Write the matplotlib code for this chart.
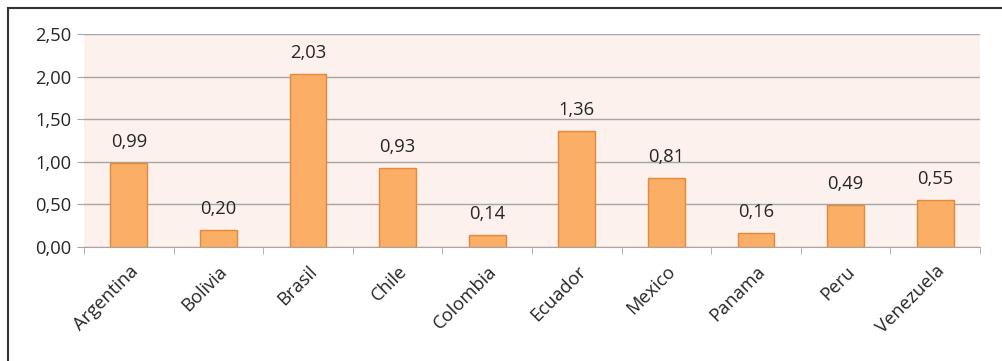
import matplotlib
matplotlib.use("Agg")
import matplotlib.pyplot as plt
from matplotlib.lines import Line2D
import numpy as np

countries = ["Argentina", "Bolivia", "Brasil", "Chile", "Colombia",
             "Ecuador", "Mexico", "Panama", "Peru", "Venezuela"]
values = [0.99, 0.20, 2.03, 0.93, 0.14, 1.36, 0.81, 0.16, 0.49, 0.55]
yticks = [0.0, 0.5, 1.0, 1.5, 2.0, 2.5]

plt.rcParams['font.family'] = ['Open Sans', 'DejaVu Sans']

W, H = 1003, 361
fig = plt.figure(figsize=(W / 100, H / 100), dpi=100)
fig.patch.set_facecolor("white")
ax = fig.add_axes([84 / W, 1 - 247 / H, (980 - 84) / W, (247 - 34) / H])
ax.set_facecolor("#FCF1EC")

FS = 13.2
x = np.arange(len(countries))
ax.bar(x, values, width=0.41, color="#FBAE65", edgecolor="#E3893A", linewidth=1, zorder=3)
for xi, v in zip(x, values):
    ax.text(xi, v + 0.14, f"{v:.2f}".replace(".", ","), ha="center", va="bottom",
            fontsize=FS, color="#262626", zorder=4)

ax.set_xlim(-0.5, len(countries) - 0.5)
ax.set_ylim(0, 2.5)
ax.set_yticks(yticks)
ax.set_yticklabels([f"{t:.2f}".replace(".", ",") for t in yticks], fontsize=FS, color="#262626")
ax.yaxis.grid(True, color="#A6A6A6", linewidth=1, zorder=0)
ax.set_axisbelow(True)

ax.set_xticks(x)
ax.set_xticklabels(countries, rotation=45, ha="right", rotation_mode="anchor",
                   fontsize=FS, color="#262626")
ax.tick_params(axis="x", length=0, pad=11)
ax.set_xticks(np.arange(-0.5, len(countries), 1.0), minor=True)
ax.tick_params(axis="x", which="minor", length=5, color="#A6A6A6")
ax.tick_params(axis="y", length=5, color="#A6A6A6", pad=4)

for s in ["top", "right", "left"]:
    ax.spines[s].set_visible(False)
ax.spines["bottom"].set_color("#A6A6A6")

# outer frame (top and left edges visible)
fig.add_artist(Line2D([8 / W, 1.0], [1 - 8 / H, 1 - 8 / H], color="#333333", linewidth=1.5,
                      transform=fig.transFigure))
fig.add_artist(Line2D([8 / W, 8 / W], [0, 1 - 8 / H], color="#333333", linewidth=1.5,
                      transform=fig.transFigure))

fig.savefig("out.png", dpi=100)
